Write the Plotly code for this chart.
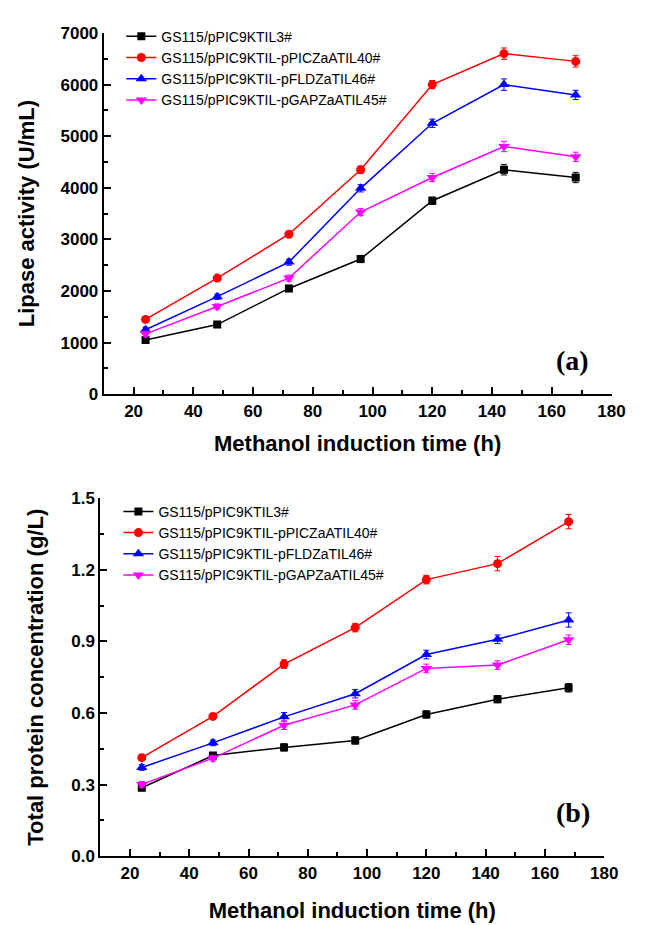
import plotly.graph_objects as go

hours = [24, 48, 72, 96, 120, 144, 168]
names = ["GS115/pPIC9KTIL3#", "GS115/pPIC9KTIL-pPICZaATIL40#",
         "GS115/pPIC9KTIL-pFLDZaTIL46#", "GS115/pPIC9KTIL-pGAPZaATIL45#"]
colors = ["#000000", "#FF0000", "#0000FF", "#FF00FF"]
symbols = ["square", "circle", "triangle-up", "triangle-down"]

# Panel (a): lipase activity (U/mL)
lipase = [
    [1050, 1350, 2050, 2620, 3750, 4350, 4200],
    [1450, 2250, 3100, 4350, 6000, 6600, 6450],
    [1250, 1890, 2560, 3990, 5250, 6000, 5800],
    [1170, 1700, 2250, 3530, 4200, 4800, 4600],
]
lipase_err = [
    [50, 50, 60, 70, 70, 100, 100],
    [50, 50, 60, 70, 80, 110, 110],
    [50, 50, 60, 70, 80, 110, 90],
    [50, 50, 60, 70, 80, 100, 90],
]

# Panel (b): total protein concentration (g/L)
protein = [
    [0.287, 0.422, 0.456, 0.485, 0.594, 0.658, 0.706],
    [0.413, 0.586, 0.805, 0.958, 1.159, 1.226, 1.402],
    [0.372, 0.475, 0.584, 0.681, 0.845, 0.909, 0.990],
    [0.301, 0.411, 0.549, 0.634, 0.787, 0.801, 0.907],
]
protein_err = [
    [0.012, 0.012, 0.015, 0.015, 0.015, 0.015, 0.018],
    [0.012, 0.012, 0.018, 0.018, 0.018, 0.030, 0.030],
    [0.012, 0.012, 0.018, 0.018, 0.018, 0.018, 0.030],
    [0.012, 0.012, 0.018, 0.018, 0.018, 0.018, 0.020],
]

W, H = 650, 925
fig = go.Figure()

msize = [8, 9, 10, 10]
for i in range(4):
    fig.add_trace(go.Scatter(
        x=hours, y=lipase[i], name=names[i], mode="lines+markers",
        line=dict(color=colors[i], width=1.5),
        marker=dict(symbol=symbols[i], size=msize[i], color=colors[i]),
        error_y=dict(type="data", array=lipase_err[i], color=colors[i], thickness=1, width=3),
        xaxis="x", yaxis="y", legend="legend"))
for i in range(4):
    fig.add_trace(go.Scatter(
        x=hours, y=protein[i], name=names[i], mode="lines+markers",
        line=dict(color=colors[i], width=1.5),
        marker=dict(symbol=symbols[i], size=msize[i], color=colors[i]),
        error_y=dict(type="data", array=protein_err[i], color=colors[i], thickness=1, width=3),
        xaxis="x2", yaxis="y2", legend="legend2"))

tickfont = dict(family="Liberation Sans", size=17, color="black", weight="bold")
titlefont = dict(family="Liberation Sans", size=22, color="black", weight="bold")

def xax(domain, anchor, standoff):
    return dict(domain=domain, anchor=anchor, range=[10, 180], dtick=20, tick0=0,
                showgrid=False, zeroline=False, showline=True, linecolor="black", linewidth=2,
                ticks="inside", ticklen=7, tickwidth=2, tickcolor="black",
                minor=dict(ticks="inside", ticklen=4, tickwidth=2, dtick=10, tick0=0, tickcolor="black"),
                tickfont=tickfont,
                title=dict(text="Methanol induction time (h)", font=titlefont, standoff=standoff))

def yax(domain, anchor, rng, dtick, minor, fmt, title, standoff):
    return dict(domain=domain, anchor=anchor, range=rng, dtick=dtick, tick0=0,
                showgrid=False, zeroline=False, showline=True, linecolor="black", linewidth=2,
                ticks="inside", ticklen=7, tickwidth=2, tickcolor="black",
                minor=dict(ticks="inside", ticklen=4, tickwidth=2, dtick=minor, tick0=0, tickcolor="black"),
                tickfont=tickfont, tickformat=fmt,
                title=dict(text=title, font=titlefont, standoff=standoff))

xa1 = [106 / W, 625 / W]
ya1 = [1 - 393.3 / H, 1 - 24.5 / H]
xa2 = [102.5 / W, 617.5 / W]
ya2 = [1 - 865 / H, 1 - 499.5 / H]

legfont = dict(family="Liberation Sans", size=14, color="black")

fig.update_layout(
    width=W, height=H, margin=dict(l=0, r=0, t=0, b=0),
    paper_bgcolor="white", plot_bgcolor="white",
    xaxis=xax(xa1, "y", 16),
    yaxis=yax(ya1, "x", [0, 7000], 1000, 500, "d", "Lipase activity (U/mL)", 20),
    xaxis2=xax(xa2, "y2", 21),
    yaxis2=yax(ya2, "x2", [0, 1.5], 0.3, 0.15, ".1f", "Total protein concentration (g/L)", 22),
    legend=dict(x=124 / W, y=1 - 12 / H, xanchor="left", yanchor="top",
                bgcolor="rgba(0,0,0,0)", font=legfont, tracegroupgap=0, itemwidth=30),
    legend2=dict(x=121 / W, y=1 - 497 / H, xanchor="left", yanchor="top",
                 bgcolor="rgba(0,0,0,0)", font=legfont, tracegroupgap=0, itemwidth=30),
    showlegend=True,
    annotations=[
        dict(text="(a)", x=604 / W, y=1 - 359 / H, xref="paper", yref="paper",
             showarrow=False, font=dict(family="Liberation Serif", size=28, color="black", weight="bold")),
        dict(text="(b)", x=605 / W, y=1 - 838 / H, xref="paper", yref="paper",
             showarrow=False, font=dict(family="Liberation Serif", size=28, color="black", weight="bold")),
    ],
)

fig.write_html("out.html")
